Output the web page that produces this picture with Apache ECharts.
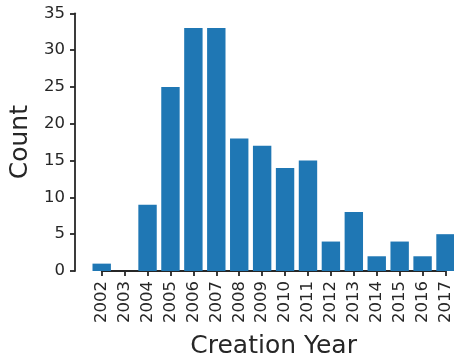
<!DOCTYPE html>
<html>
<head>
<meta charset="utf-8">
<script src="https://cdn.jsdelivr.net/npm/echarts@6/dist/echarts.min.js"></script>
<style>
  html, body { margin: 0; padding: 0; background: #fff; }
  #chart { width: 454px; height: 364px; }
</style>
</head>
<body>
<div id="chart"></div>
<script>
// Number of items created per year
const years = ['2002', '2003', '2004', '2005', '2006', '2007', '2008', '2009',
               '2010', '2011', '2012', '2013', '2014', '2015', '2016', '2017'];
const counts = [1, 0, 9, 25, 33, 33, 18, 17, 14, 15, 4, 8, 2, 4, 2, 5];
const yTicks = [0, 5, 10, 15, 20, 25, 30, 35];

const ink = '#262626';
const font = 'DejaVu Sans';
const spineWidth = 1.8;

const chart = echarts.init(document.getElementById('chart'), null, { renderer: 'canvas' });

chart.setOption({
  animation: false,
  backgroundColor: '#ffffff',
  grid: { left: 101.7, top: 13.3, width: 345, bottom: 93 },
  xAxis: {
    type: 'value',
    min: 0,
    max: years.length - 1,
    interval: 1,
    name: 'Creation Year',
    nameLocation: 'middle',
    nameGap: 63,
    nameTextStyle: { fontFamily: font, fontSize: 25, color: ink },
    axisLine: { show: true, onZero: false, lineStyle: { color: ink, width: spineWidth } },
    axisTick: { show: true, length: 5, lineStyle: { color: ink, width: spineWidth } },
    axisLabel: {
      rotate: 90,
      margin: 10,
      fontFamily: font,
      fontSize: 16.5,
      color: ink,
      formatter: v => years[v] ?? ''
    },
    splitLine: { show: false }
  },
  yAxis: {
    type: 'value',
    min: yTicks[0],
    max: yTicks[yTicks.length - 1],
    interval: yTicks[1] - yTicks[0],
    offset: 26.7,
    name: 'Count',
    nameLocation: 'middle',
    nameGap: 42,
    nameTextStyle: { fontFamily: font, fontSize: 25, color: ink },
    axisLine: { show: true, onZero: false, lineStyle: { color: ink, width: spineWidth } },
    axisTick: { show: true, length: 5, lineStyle: { color: ink, width: spineWidth } },
    axisLabel: { margin: 10, fontFamily: font, fontSize: 16.5, color: ink },
    splitLine: { show: false }
  },
  series: [{
    type: 'bar',
    data: counts.map((c, i) => [i, c]),
    barWidth: 18.4,
    clip: false,
    itemStyle: { color: '#1f77b4' }
  }]
});
</script>
</body>
</html>
